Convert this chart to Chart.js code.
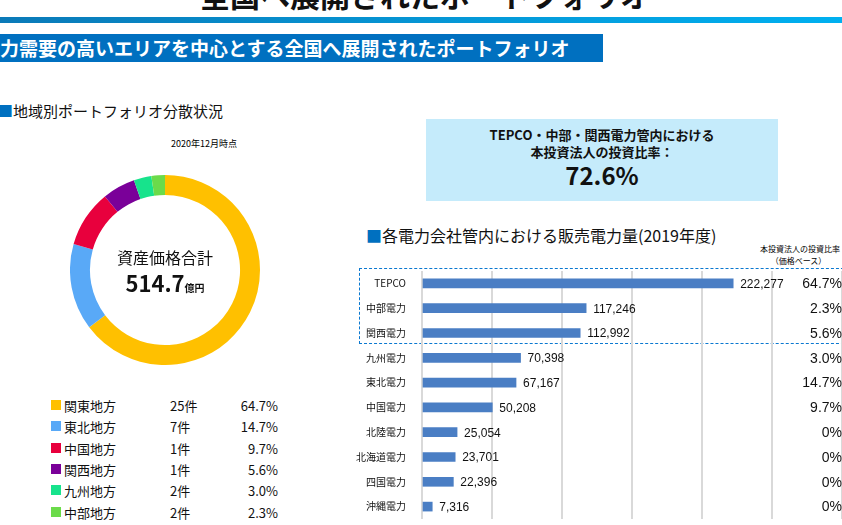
<!DOCTYPE html>
<html><head><meta charset="utf-8">
<script src="https://cdn.jsdelivr.net/npm/chart.js@4"></script>
<style>
body{margin:0;width:842px;height:525px;overflow:hidden;background:#fff;font-family:"Noto Sans CJK JP",sans-serif;position:relative}
.abs{position:absolute}
#title{left:200px;top:-28px;font-size:30px;font-weight:bold;color:#111;white-space:nowrap}
#rule{left:0;top:17px;width:842px;height:6px;background:linear-gradient(90deg,#0a7ab8,#00b0f0)}
#band{left:0;top:34px;width:603px;height:28px;overflow:hidden;background:#0070c0;color:#fff;font-size:19px;line-height:28px;font-weight:bold;white-space:nowrap}
#band span{position:relative;left:-19px}
.h2{font-size:15px;color:#111;white-space:nowrap}
.h2 b{color:#0070c0;font-weight:normal}
#box{left:426px;top:119px;width:352px;height:82px;background:#c5ebfb;text-align:center;font-weight:bold;color:#111}
#dash{left:359px;top:268px;width:490px;height:76px;border:1px dashed #0a78d0;box-sizing:border-box}
.leg{font-size:13px;color:#111;white-space:nowrap}
</style></head><body>
<div id="title" class="abs">全国へ展開されたポートフォリオ</div>
<div id="rule" class="abs"></div>
<div id="band" class="abs"><span>電力需要の高いエリアを中心とする全国へ展開されたポートフォリオ</span></div>
<div class="abs h2" style="left:-2px;top:100px"><b>■</b>地域別ポートフォリオ分散状況</div>
<div class="abs" style="left:171px;top:137px;font-size:9px">2020年12月時点</div>
<div id="box" class="abs"><div style="font-size:13px;margin-top:7px;line-height:17px">TEPCO・中部・関西電力管内における<br>本投資法人の投資比率：</div><div style="font-size:24px;line-height:30px">72.6%</div></div>
<div class="abs h2" style="left:366px;top:223px;font-size:16px"><b>■</b>各電力会社管内における販売電力量(2019年度)</div>
<div class="abs" style="left:760px;top:243px;font-size:8px;line-height:12px;white-space:nowrap">本投資法人の投資比率<br>&nbsp;&nbsp;&nbsp;&nbsp;&nbsp;&nbsp;（価格ベース）</div>
<div id="dash" class="abs"></div>
<canvas id="donut" class="abs" width="190" height="190" style="left:70px;top:175px"></canvas>
<div class="abs" style="left:65px;top:245px;width:200px;text-align:center;color:#111"><div style="font-size:16px">資産価格合計</div><div style="font-size:22px;font-weight:bold;line-height:26px">514.7<span style="font-size:10px">億円</span></div></div>
<div id="legend" class="abs" style="left:0;top:0"></div>
<canvas id="bars" class="abs" width="487" height="276" style="left:355px;top:257px"></canvas>
<script>
const regions = ["関東地方", "東北地方", "中国地方", "関西地方", "九州地方", "中部地方"];
const regionCounts = ["25件", "7件", "1件", "1件", "2件", "2件"];
const regionShares = [64.7, 14.7, 9.7, 5.6, 3.0, 2.3];
const regionColors = ["#FFC000", "#59A9F7", "#E8003D", "#7A0099", "#17E38C", "#6BDB4A"];

const utilities = ["TEPCO", "中部電力", "関西電力", "九州電力", "東北電力", "中国電力", "北陸電力", "北海道電力", "四国電力", "沖縄電力"];
const salesGWh = [222277, 117246, 112992, 70398, 67167, 50208, 25054, 23701, 22396, 7316];
const investShare = ["64.7%", "2.3%", "5.6%", "3.0%", "14.7%", "9.7%", "0%", "0%", "0%", "0%"];

const leg = document.getElementById("legend");
regions.forEach((r, i) => {
  const y = 396 + i * 21.3;
  leg.innerHTML += `<div class="abs" style="left:51px;top:${y + 4}px;width:10px;height:10px;background:${regionColors[i]}"></div>
  <div class="abs leg" style="left:64px;top:${y}px">${r}</div>
  <div class="abs leg" style="left:170px;top:${y}px">${regionCounts[i]}</div>
  <div class="abs leg" style="left:220px;top:${y}px;width:58px;text-align:right">${regionShares[i].toFixed(1)}%</div>`;
});

new Chart(document.getElementById("donut"), {
  type: "doughnut",
  data: { labels: regions, datasets: [{ data: regionShares, backgroundColor: regionColors, borderWidth: 0 }] },
  options: { responsive: false, animation: false, cutout: "79%", plugins: { legend: { display: false }, tooltip: { enabled: false } } },
});

const barLabels = {
  id: "barLabels",
  afterDatasetsDraw(chart) {
    const { ctx } = chart;
    const meta = chart.getDatasetMeta(0);
    ctx.save();
    ctx.fillStyle = "#111";
    ctx.textBaseline = "middle";
    meta.data.forEach((bar, i) => {
      ctx.font = "12px 'Liberation Sans', sans-serif";
      ctx.textAlign = "left";
      ctx.fillText(salesGWh[i].toLocaleString("en-US"), bar.x + 7, bar.y + 1);
      ctx.font = "14px 'Liberation Sans', sans-serif";
      ctx.textAlign = "right";
      ctx.fillText(investShare[i], 487, bar.y + 1);
    });
    ctx.restore();
  },
};

new Chart(document.getElementById("bars"), {
  type: "bar",
  data: { labels: utilities, datasets: [{ data: salesGWh, backgroundColor: "#4A7EC4", barThickness: 9 }] },
  options: {
    indexAxis: "y", responsive: false, animation: false,
    layout: { padding: 0 },
    plugins: { legend: { display: false }, tooltip: { enabled: false } },
    scales: {
      x: { min: 0, max: 300000, afterFit(s) { s.height = 0; }, ticks: { display: false, stepSize: 50000 }, border: { display: false }, grid: { color: "#d9d9d9", lineWidth: 2, drawTicks: false } },
      y: { grid: { display: false }, border: { display: false },
        afterFit(s) { s.width = 67; },
        ticks: { color: "#111", font: { size: 10, family: "'Noto Sans CJK JP'" }, padding: 8 } },
    },
  },
  plugins: [barLabels],
});
</script>
</body></html>
